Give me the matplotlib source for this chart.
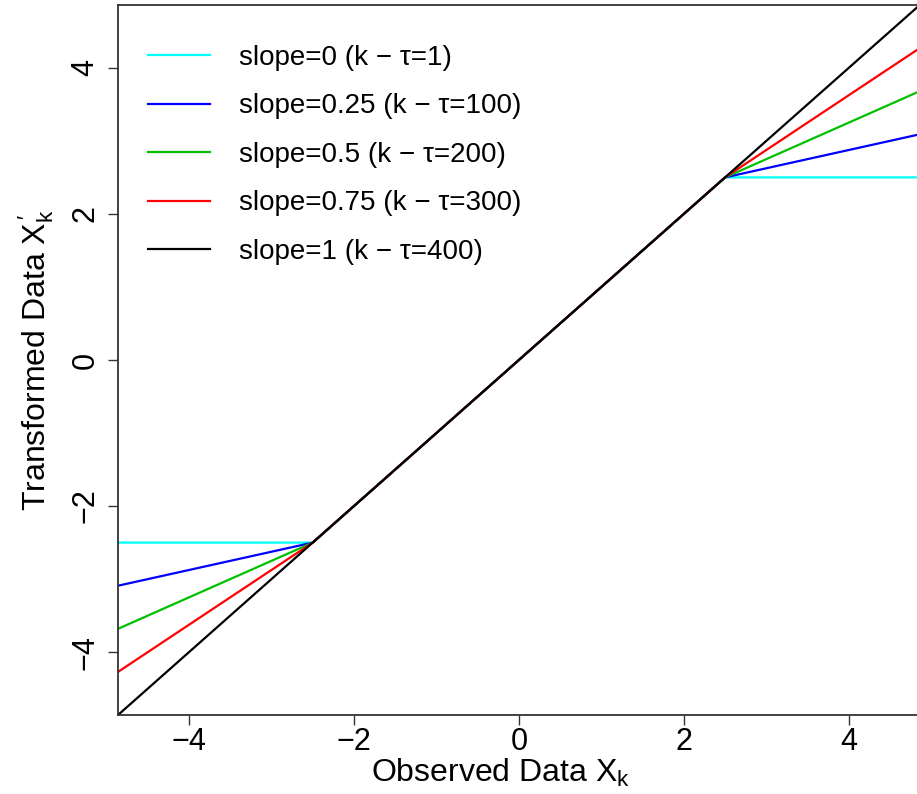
import numpy as np
import matplotlib
matplotlib.use("Agg")
import matplotlib.pyplot as plt

slopes = [0, 0.25, 0.5, 0.75, 1]
k_tau = [1, 100, 200, 300, 400]
colors = ["cyan", "blue", "#00c000", "red", "black"]
knot = 2.5
x_pts = np.array([-4.86, -knot, knot, 4.86])
xticks = [-4, -2, 0, 2, 4]
yticks = [-4, -2, 0, 2, 4]

plt.rcParams["font.family"] = ["Liberation Sans", "DejaVu Sans"]
plt.rcParams["mathtext.fontset"] = "custom"
plt.rcParams["mathtext.rm"] = "Liberation Sans"
plt.rcParams["mathtext.it"] = "Liberation Sans"
plt.rcParams["mathtext.sf"] = "Liberation Sans"

fig = plt.figure(figsize=(9.17, 7.94), dpi=100)
ax = fig.add_axes([0.1287, 0.0995, 1.003 - 0.1287, 0.9937 - 0.0995])


def transform(x, s):
    y = x.copy()
    hi = x > knot
    lo = x < -knot
    y[hi] = knot + s * (x[hi] - knot)
    y[lo] = -knot + s * (x[lo] + knot)
    return y


for s, k, c in zip(slopes, k_tau, colors):
    ax.plot(x_pts, transform(x_pts, s), color=c, lw=1.6,
            label="slope=%g (k \u2212 \u03c4=%d)" % (s, k))

ax.set_xlim(-4.86, 4.86)
ax.set_ylim(-4.86, 4.86)
ax.set_xticks(xticks)
ax.set_yticks(yticks)
ax.set_xticklabels(["\u2212%d" % -t if t < 0 else str(t) for t in xticks],
                   fontsize=22)
ax.set_yticklabels(["\u2212%d" % -t if t < 0 else str(t) for t in yticks],
                   fontsize=22, rotation=90, va="center")
ax.tick_params(direction="out", length=7.5, width=1, colors="#333333",
               labelcolor="black")
ax.tick_params(axis="x", pad=1)
ax.tick_params(axis="y", pad=5)
for sp in ax.spines.values():
    sp.set_linewidth(1.3)
    sp.set_color("#333333")

ax.set_xlabel(r"Observed Data $\mathregular{X_k}$", fontsize=23, labelpad=0)
ax.xaxis.label.set_x(0.4775)
ax.set_ylabel(r"Transformed Data $\mathregular{X_k^{\,\prime}}$",
              fontsize=23, labelpad=10.5)

ax.legend(loc="upper left", frameon=False, fontsize=20, handlelength=2.23,
          handletextpad=1.04, labelspacing=0.81, borderaxespad=0.68,
          bbox_to_anchor=(0.0, 0.986))

fig.savefig("out.png", dpi=100)
